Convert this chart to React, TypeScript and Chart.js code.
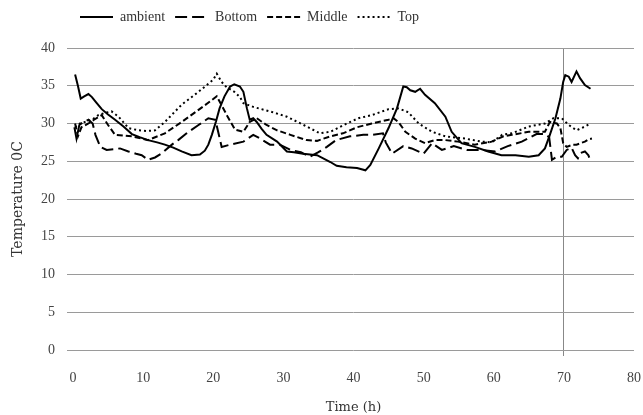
import React, { useEffect, useRef } from "react";
import { Chart, registerables } from "chart.js";

Chart.register(...registerables);

const ambientT = [0.3, 0.7, 1.1, 1.6, 2.2, 2.7, 3.3, 4.1, 5, 6, 7.2, 8.4, 9.5, 10.7, 12, 13.1, 14.3, 15.5, 16.9, 18.1, 18.8, 19.3, 19.8, 20.4, 20.9, 21.6, 22.4, 23, 23.8, 24.3, 24.8, 25.2, 25.7, 26.2, 26.9, 27.6, 29.1, 30.5, 31.5, 32.8, 34.8, 36.7, 37.6, 39, 40.5, 41.7, 42.4, 43.6, 45, 46.2, 47.1, 47.6, 48.1, 48.8, 49.5, 50.2, 51.6, 53.1, 54, 55.4, 57.3, 59.2, 61.1, 63.1, 65, 66.4, 67.3, 68, 68.8, 69.5, 69.9, 70.2, 70.7, 71.1, 71.8, 72.3, 73, 73.8];
const ambientV = [36.5, 35, 33.3, 33.6, 33.9, 33.5, 32.8, 31.9, 31.2, 30.5, 29.6, 28.6, 28.2, 27.8, 27.5, 27.2, 26.8, 26.3, 25.8, 25.9, 26.4, 27.2, 28.5, 30.3, 32, 33.6, 34.9, 35.2, 34.9, 34.2, 32, 30.5, 30.7, 30.2, 29.3, 28.5, 27.6, 26.3, 26.2, 26, 25.8, 24.9, 24.4, 24.2, 24.1, 23.8, 24.5, 26.7, 29.4, 32, 34.9, 34.8, 34.4, 34.2, 34.6, 33.8, 32.7, 30.9, 28.9, 27.4, 26.9, 26.3, 25.8, 25.8, 25.6, 25.8, 26.7, 28.5, 30.7, 33.3, 35.5, 36.4, 36.2, 35.5, 36.9, 36, 35.1, 34.6];

const bottomT = [0.2, 0.5, 0.9, 1.5, 2.2, 2.8, 3.2, 3.9, 4.8, 5.8, 6.7, 7.9, 9, 9.8, 10.7, 11.7, 12.6, 14.1, 15, 16.2, 17.9, 19.3, 20.3, 20.8, 21.2, 22.4, 24.3, 25.7, 26.7, 28.1, 29.5, 31, 32.5, 33.8, 35, 36.2, 37.5, 39.5, 41.4, 42.8, 44.2, 44.6, 45.5, 47.1, 48.3, 50, 51.2, 52.6, 54.3, 56.2, 58.3, 60.2, 62, 64, 66.1, 67.3, 67.9, 68.3, 69, 69.7, 70.4, 71.1, 71.6, 72, 72.4, 73, 73.5, 73.8];
const bottomV = [29.5, 28, 29.8, 30.2, 30.5, 30, 28.5, 26.9, 26.5, 26.6, 26.7, 26.3, 26, 25.8, 25.2, 25.5, 26, 27.2, 27.8, 28.7, 29.8, 30.7, 30.5, 28.5, 26.9, 27.2, 27.6, 28.5, 28, 27.2, 27.2, 26.5, 26.2, 25.6, 26.2, 26.9, 27.8, 28.3, 28.5, 28.5, 28.7, 27.5, 26, 27, 26.7, 26, 27.4, 26.5, 27, 26.5, 26.5, 26.3, 27, 27.6, 28.6, 28.6, 28.2, 25.2, 25.6, 25.6, 26.5, 26.8, 25.8, 25.4, 26.1, 26.3, 25.8, 25];

const middleT = [0.3, 0.7, 1.2, 2.2, 3, 4.1, 5, 6, 7.2, 8.4, 10.7, 13.1, 15.5, 17.9, 19.8, 20.5, 21.2, 22, 23.1, 24.3, 25.2, 26.2, 27.6, 29.1, 31, 33.3, 34.8, 36.7, 38.5, 40.5, 42.6, 45, 45.7, 46.4, 47.4, 48.8, 50.2, 51.6, 53.1, 54.9, 57.3, 59.7, 61.4, 62.6, 65, 67.3, 68, 69, 69.5, 69.9, 70.4, 71.3, 71.8, 73, 73.5, 74];
const middleV = [30, 28.3, 29.5, 30, 30.5, 31.1, 29.8, 28.5, 28.4, 28.3, 27.8, 28.7, 30.2, 31.8, 33.1, 33.6, 32.4, 31, 29.2, 28.9, 30.2, 30.7, 29.8, 29.1, 28.5, 27.8, 27.7, 28.3, 28.7, 29.5, 30, 30.5, 30.7, 30.2, 28.9, 28, 27.4, 27.8, 27.8, 27.6, 27.2, 27.6, 28.3, 28.5, 28.9, 28.9, 30.2, 30, 29.4, 27.4, 26.9, 27.2, 27.2, 27.6, 27.9, 28];

const topT = [0.3, 1, 2, 2.7, 3.6, 4.5, 5.5, 6.5, 7.9, 9.3, 10.5, 11.7, 13.1, 15.5, 17.9, 20, 20.5, 21.2, 21.9, 23, 23.8, 24.3, 25.7, 28.1, 30.5, 32.9, 35.2, 36.7, 38.6, 40.7, 42.6, 45, 46.4, 47.8, 49.3, 51.2, 53.1, 55.9, 58.3, 59.7, 61.2, 62.6, 65, 67.3, 68.5, 69.7, 70.7, 71.8, 73, 73.8];
const topV = [29.5, 30, 30.3, 30.5, 31.1, 31.4, 31.6, 30.9, 29.4, 29.1, 29, 29.1, 30.2, 32.5, 34.2, 35.8, 36.6, 35.5, 34.8, 34.2, 33.5, 32.7, 32.2, 31.6, 30.9, 29.8, 28.7, 28.9, 29.8, 30.7, 31.1, 31.9, 32, 31.5, 30, 28.9, 28.3, 28, 27.6, 27.5, 28.5, 28.7, 29.6, 30, 30.7, 30.7, 29.8, 29.1, 29.6, 30];

const seriesNames = ["ambient", "Bottom", "Middle", "Top"];
const xTitle = "Time (h)";
const yTitle = "Temperature 0C";
const markerTime = 70;

const pts = (t: number[], v: number[]) => t.map((x, i) => ({ x, y: v[i] }));

const FONT = "'Liberation Serif', 'DejaVu Serif', serif";
const TITLE_FONT = "'DejaVu Serif', 'Liberation Serif', serif";

const PLOT_LEFT = 73;
const PLOT_RIGHT = 634;

const fixLayout = {
  id: "fixLayout",
  afterLayout(chart: any) {
    const l = chart.legend;
    if (l) {
      const w = l.right - l.left;
      l.left = 70;
      l.right = 70 + w;
      const h = l.bottom - l.top;
      l.top = 0;
      l.bottom = h;
    }
    const ca = chart.chartArea;
    ca.left = PLOT_LEFT;
    ca.right = PLOT_RIGHT;
    ca.width = PLOT_RIGHT - PLOT_LEFT;
    const x = chart.scales.x;
    x.left = PLOT_LEFT;
    x.right = PLOT_RIGHT;
    x.width = PLOT_RIGHT - PLOT_LEFT;
    x.configure();
    const y = chart.scales.y;
    y.right = PLOT_LEFT;
    y.left = 0;
    y.width = PLOT_LEFT;
    y.configure();
  },
};

export default function App() {
  const ref = useRef<HTMLCanvasElement | null>(null);
  useEffect(() => {
    document.body.style.margin = "0";
    const ctx = ref.current;
    if (!ctx) return;
    const common = {
      borderColor: "#000",
      backgroundColor: "transparent",
      pointRadius: 0,
      pointStyle: "line",
      borderWidth: 2,
      tension: 0,
      fill: false,
    };
    const chart = new Chart(ctx, {
      type: "line",
      data: {
        datasets: [
          { ...common, label: seriesNames[0], data: pts(ambientT, ambientV) },
          { ...common, label: seriesNames[1], data: pts(bottomT, bottomV), borderDash: [12, 5] },
          { ...common, label: seriesNames[2], data: pts(middleT, middleV), borderDash: [6, 3] },
          { ...common, label: seriesNames[3], data: pts(topT, topV), borderDash: [2, 3] },
        ],
      },
      plugins: [fixLayout],
      options: {
        animation: false,
        responsive: true,
        maintainAspectRatio: false,
        layout: { padding: { top: 14, right: 9, left: 0, bottom: 0 } },
        plugins: {
          tooltip: { enabled: false },
          legend: {
            position: "top",
            align: "start",
            labels: {
              color: "#333",
              font: { family: FONT, size: 14 },
              usePointStyle: true,
              pointStyleWidth: 33,
              boxHeight: 14,
              padding: 10,
              generateLabels: (ch: any) => {
                const items = (Chart as any).defaults.plugins.legend.labels.generateLabels(ch);
                return items.map((it: any) => {
                  const ds = ch.data.datasets[it.datasetIndex];
                  return {
                    ...it,
                    lineDash: ds.borderDash || [],
                    lineWidth: 2,
                    strokeStyle: "#000",
                    fillStyle: "#000",
                    pointStyle: "line",
                  };
                });
              },
            },
          },
        },
        scales: {
          x: {
            type: "linear",
            min: 0,
            max: 80,
            ticks: { stepSize: 10, color: "#444", font: { family: FONT, size: 14 }, padding: 14 },
            grid: {
              color: (c: any) => (c.tick && c.tick.value === markerTime ? "#888" : "rgba(0,0,0,0)"),
              lineWidth: 1,
              tickLength: 6,
            },
            border: { display: false },
            title: { display: true, text: xTitle, color: "#333", font: { family: TITLE_FONT, size: 13 }, padding: { top: 4, bottom: 0 } },
            afterFit: (s: any) => { s.height = 65; },
          },
          y: {
            min: 0,
            max: 40,
            ticks: { stepSize: 5, color: "#444", font: { family: FONT, size: 14 }, padding: 12 },
            grid: { color: "#9a9a9a", lineWidth: 1, tickLength: 6 },
            border: { display: false },
            title: { display: true, text: yTitle, color: "#333", font: { family: TITLE_FONT, size: 14 }, padding: { top: 10, bottom: 0 } },
            afterFit: (s: any) => { s.width = 73; },
          },
        },
      },
    } as any);
    return () => chart.destroy();
  }, []);
  return (
    <div style={{ width: 643, height: 415, position: "relative" }}>
      <canvas ref={ref} />
    </div>
  );
}
